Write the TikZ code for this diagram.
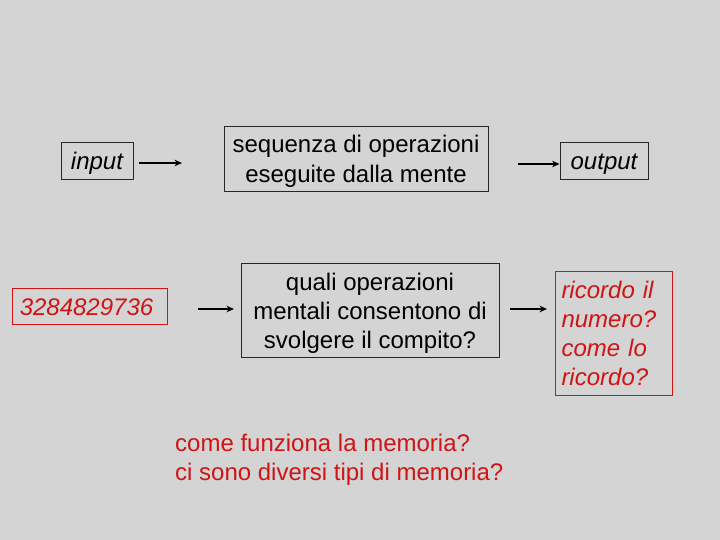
\documentclass[tikz,border=0pt]{standalone}
\usepackage{fontspec}
\setmainfont{Liberation Sans}
\usetikzlibrary{arrows.meta}
\definecolor{bg}{HTML}{D4D4D4}
\definecolor{rd}{HTML}{D01414}
\begin{document}
\begin{tikzpicture}[x=1pt,y=-1pt,
  box/.style={draw=black!85,line width=0.9pt,inner sep=0pt,align=center,
    font=\fontsize{24}{29}\selectfont,text height=19pt,text depth=0pt},
  redbox/.style={box,draw=rd,text=rd},
  arr/.style={line width=1.9pt,-{Stealth[length=7.5pt,width=6.5pt]}}]
\fill[bg] (0,0) rectangle (720,540);
\useasboundingbox (0,0) rectangle (720,540);
\node[box,minimum width=72pt,minimum height=37pt] (input) at (97,160.5) {\itshape input};
\node[box,minimum width=264pt,minimum height=65pt,font=\fontsize{24}{30}\selectfont,text height=49pt] (seq) at (356,158.5) {sequenza di operazioni\\eseguite dalla mente};
\node[box,minimum width=88pt,minimum height=37pt] (output) at (604,160.5) {\itshape output};
\node[redbox,minimum width=155pt,minimum height=36pt] (num) at (89.5,306) {\itshape 3284829736\hspace*{6pt}};
\node[box,minimum width=258pt,minimum height=94pt,text height=77pt] (quali) at (370,310) {quali operazioni\\mentali consentono di\\svolgere il compito?};
\node[redbox,minimum width=117pt,minimum height=124pt,align=left,text width=104pt,text depth=89pt] (ric) at (613.5,333) {\itshape ricordo il\\numero?\\come lo\\ricordo?};
\node[anchor=base west,inner sep=0pt,align=left,text=rd,font=\fontsize{24}{29}\selectfont] (mem) at (175,480.5) {come funziona la memoria?\\ci sono diversi tipi di memoria?};
\coordinate (a1s) at (139,163); \coordinate (a1e) at (182,163);
\coordinate (a2s) at (518,164); \coordinate (a2e) at (output.west |- 0,164);
\coordinate (a3s) at (198,309); \coordinate (a3e) at (234,309);
\coordinate (a4s) at (510,309); \coordinate (a4e) at (547,309);
\draw[arr] (a1s) -- (a1e);
\draw[arr] (a2s) -- (a2e);
\draw[arr] (a3s) -- (a3e);
\draw[arr] (a4s) -- (a4e);
\end{tikzpicture}
\end{document}
